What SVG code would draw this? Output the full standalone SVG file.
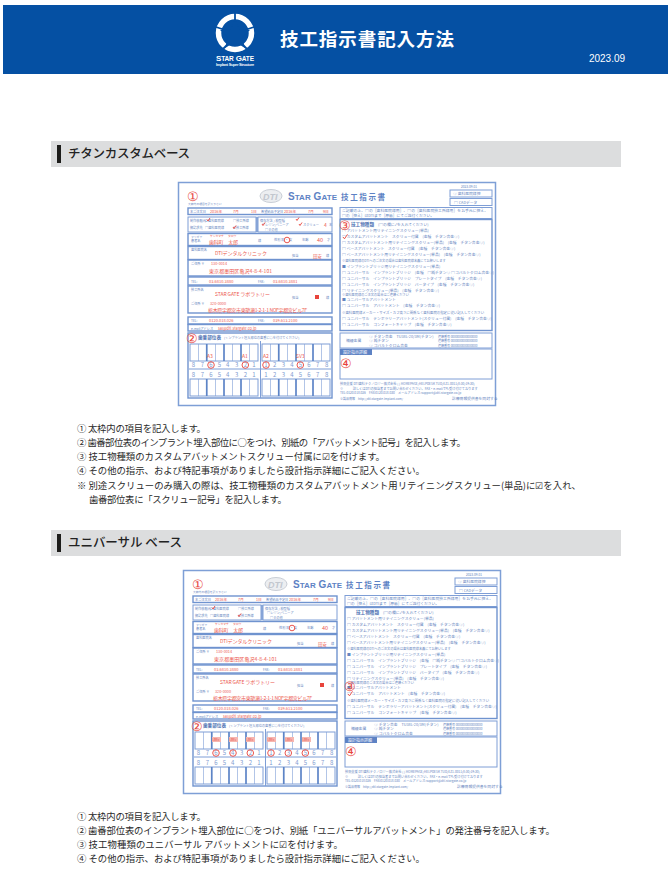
<svg xmlns="http://www.w3.org/2000/svg" xmlns:xlink="http://www.w3.org/1999/xlink" width="672" height="889" viewBox="0 0 672 889">
<style>
text{font-family:"Noto Sans CJK JP","Noto Sans",sans-serif}
.body{font-size:9.4px;fill:#2a2a2a}
.head{font-size:12.5px;fill:#222;font-weight:500}
.t{font-size:3.8px;fill:#6685c0}
.l{font-size:3.2px;fill:#6685c0}
.tb{font-size:4.6px;fill:#4f73b4;font-weight:700}
.n{font-size:6px;fill:#7f9bd0;text-anchor:middle;font-family:"Liberation Sans",sans-serif}
.r{font-size:5px;fill:#ec5a50}
.rs{font-size:3.8px;fill:#ec5a50}
.num{font-size:13px;fill:#e8443c;text-anchor:middle;font-family:"Liberation Sans",sans-serif}
.p{fill:none;stroke:#7e9ed6;stroke-width:1}
.pt{fill:none;stroke:#6f93cf;stroke-width:1.4}
.red{fill:none;stroke:#e8443c;stroke-width:.9}
.cell{stroke:#7e9ed6;stroke-width:.6}
.thick{stroke:#5d84c6;stroke-width:1.6}
</style>
<defs>
<g id="grid">
<rect class="p" x="190" y="344" width="68" height="17"/>
<path class="cell" d="M198.500 344V361M207 344V361M215.500 344V361M224 344V361M232.500 344V361M241 344V361M249.500 344V361"/>
<path class="thick" d="M206.700 344V361M224 344V361M241 344V361"/>
</g>
<g id="formBase">
<rect x="178.500" y="182.500" width="317" height="223" fill="#fff" stroke="#7e9fd6" stroke-width="1.500"/>
<text x="188" y="205" class="l" style="font-size:2.800px">太枠内の項目を記入下さい</text>
<ellipse cx="271" cy="196" rx="11" ry="6.500" fill="#eceef1" stroke="#c9ced6" stroke-width="1"/>
<text x="263" y="199.500" font-size="9" fill="#c2c7cf" font-weight="700" font-style="italic" style="font-family:'Liberation Sans',sans-serif">DTI</text>
<text x="288" y="199.500" font-size="10" fill="#5d82c4" font-weight="700" textLength="49" style="font-family:'Liberation Sans',sans-serif">S<tspan font-size="8">TAR</tspan> G<tspan font-size="8">ATE</tspan></text>
<text x="341" y="199.500" font-size="7.500" fill="#5d82c4" font-weight="700" textLength="44">技工指示書</text>
<!-- left panels -->
<rect class="pt" x="188" y="208" width="144" height="6.500"/>
<text x="190" y="212.800" class="l">本ご注文日</text><text x="261" y="212.800" class="l">希望納品予定日</text>
<rect class="p" x="188" y="217" width="68" height="15"/><rect class="p" x="258" y="217" width="74" height="15"/>
<path class="pt" d="M257 217V232"/>
<text x="190" y="221.500" class="l">制作依頼元</text><text x="233" y="221.500" class="l">□技工所様</text>
<text x="190" y="229" class="l">御請求先</text><text x="205" y="229" class="l">□歯科医院様</text><text x="233" y="229" class="l">☑技工所様</text>
<text x="260" y="221.500" class="l">保存方法 / 模型種</text><text x="262" y="226" class="l">□レジン/ベニーア</text><text x="265" y="230.500" class="l">□その他</text>
<rect class="pt" x="188" y="233.500" width="144" height="12"/>
<text x="191" y="238" class="l" style="font-size:2.800px">フリガナ</text><text x="191" y="242" class="l">患者名</text><text x="258" y="242" class="l">様</text><text x="274" y="241" class="l">性別 男 ・ 女</text><text x="302" y="241" class="l">年齢</text><text x="327" y="241" class="l">才</text>
<rect class="pt" x="188" y="246.500" width="144" height="13"/>
<text x="191" y="250.500" class="l">歯科医院名</text><text x="292" y="257" class="l">担当</text><text x="326" y="257" class="l">様</text>
<rect class="pt" x="188" y="260" width="144" height="16"/>
<text x="191" y="264.500" class="l">ご住所 〒</text>
<rect class="pt" x="188" y="277" width="144" height="8"/>
<text x="191" y="282.500" class="l">TEL:</text><text x="258" y="282.500" class="l">FAX:</text>
<rect class="pt" x="188" y="286" width="144" height="27"/>
<text x="191" y="290.500" class="l">技工所名</text><text x="292" y="299" class="l">担当</text><text x="326" y="299" class="l">様</text>
<text x="191" y="304.500" class="l">ご住所 〒</text>
<rect class="pt" x="188" y="317" width="144" height="7"/>
<text x="191" y="322" class="l">TEL:</text><text x="258" y="322" class="l">FAX:</text>
<rect class="pt" x="188" y="324.500" width="144" height="6.500"/>
<text x="191" y="329.500" class="l">e-mailアドレス</text>
<rect class="pt" x="188" y="333" width="144" height="65"/>
<text x="198" y="339" class="tb">歯番部位表</text><text x="224" y="339" class="l">(インプラント埋入部位の歯番に○を付けてください)</text>
<path class="p" d="M260.500 341V398"/>
<use xlink:href="#grid"/><use xlink:href="#grid" x="72"/>
<use xlink:href="#grid" y="35"/><use xlink:href="#grid" x="72" y="35"/>
<path class="p" d="M189 369H331"/>
<g class="n"><text x="193.300" y="367">8</text><text x="202.300" y="367">7</text><text x="211" y="367">6</text><text x="219.300" y="367">5</text><text x="227.700" y="367">4</text><text x="236.700" y="367">3</text><text x="245.300" y="367">2</text><text x="254" y="367">1</text><text x="266" y="367">1</text><text x="274.700" y="367">2</text><text x="283.300" y="367">3</text><text x="292" y="367">4</text><text x="300.300" y="367">5</text><text x="309" y="367">6</text><text x="317.700" y="367">7</text><text x="326.700" y="367">8</text>
<text x="193.300" y="377">8</text><text x="202.300" y="377">7</text><text x="211" y="377">6</text><text x="219.300" y="377">5</text><text x="227.700" y="377">4</text><text x="236.700" y="377">3</text><text x="245.300" y="377">2</text><text x="254" y="377">1</text><text x="266" y="377">1</text><text x="274.700" y="377">2</text><text x="283.300" y="377">3</text><text x="292" y="377">4</text><text x="300.300" y="377">5</text><text x="309" y="377">6</text><text x="317.700" y="377">7</text><text x="326.700" y="377">8</text></g>
<!-- right panels -->
<text x="461" y="187.500" class="l">2023.09.01</text>
<rect class="p" x="450" y="190" width="42" height="7"/><text x="453" y="195" class="t">◎ 歯科医院様控</text>
<rect class="p" x="450" y="198.500" width="42" height="7"/><text x="454" y="203.500" class="t">□ CADデータ</text>
<rect class="p" x="340" y="207.500" width="152" height="11"/>
<text x="342" y="212" class="t" textLength="146">ご記載の上、□の［歯科医院様用］、□の［歯科医院技工所様用］をお手元に控え、</text>
<text x="342" y="216.500" class="t" textLength="92">□の［控え］はDTIまで［原紙］にてご送付ください。</text>
<rect class="pt" x="340" y="219.500" width="152" height="111"/>
<text x="351" y="225.500" class="tb">技工物種類</text><text x="378" y="225.500" class="t">(□の欄に✓を入れてください)</text>
<g class="t">
<text x="342" y="231.500">□ アバットメント用リテイニングスクリュー(単品)</text>
<text x="342" y="238">□ カスタムアバットメント　スクリュー付属　(金種　チタン合金◎)</text>
<text x="342" y="244">□ カスタムアバットメント用リテイニングスクリュー(単品)　(金種　チタン合金◎)</text>
<text x="342" y="250">□ ベースアバットメント　スクリュー付属　(金種　チタン合金◎)</text>
<text x="342" y="256">□ ベースアバットメント用リテイニングスクリュー(単品)　(金種　チタン合金◎)</text>
<text x="342" y="261.500" style="font-size:3.200px">※歯科医院様のDTIへのご注文の場合は歯科医院様名義にてお願いします</text>
<text x="342" y="267.500">■ インプラントブリッジ用リテイニングスクリュー(単品)</text>
<text x="342" y="273.500">□ ユニバーサル　インプラントブリッジ　(金種　□純チタン◎ □コバルトクロム合金◎)</text>
<text x="342" y="279.500">□ ユニバーサル　インプラントブリッジ　プレートタイプ　(金種　チタン合金◎)</text>
<text x="342" y="285.500">□ ユニバーサル　インプラントブリッジ　バータイプ　(金種　チタン合金◎)</text>
<text x="342" y="291.500">□ リテイニングスクリュー(単品)　(金種　チタン合金◎)</text>
<text x="342" y="296" style="font-size:3.200px">※歯科医院様のご注文の場合はご連絡ください</text>
<text x="342" y="301">■ ユニバーサルアバットメント</text>
<text x="342" y="307">□ ユニバーサル　アバットメント　(金種　チタン合金◎)</text>
<text x="342" y="314" style="font-size:3.400px">※歯科医院様メーカー・サイズ・カフ高さに関係なく歯科医院の指定に従い記入してください</text>
<text x="342" y="320">□ ユニバーサル　テンポラリーアバットメント(スクリュー付属)　(金種　チタン合金◎)</text>
<text x="342" y="326">□ ユニバーサル　コンフォートキャップ　(金種　チタン合金◎)</text>
</g>
<rect class="p" x="340" y="333" width="152" height="15"/>
<text x="346" y="342" class="t">補綴金属</text>
<text x="369" y="337.500" class="t">◎ チタン合金　TU38L-20/3M(チタン)</text><text x="369" y="342" class="t">◎ 純チタン</text><text x="369" y="346.500" class="t">◎ コバルトクロム合金</text>
<text x="438" y="337.500" class="l" style="font-size:3px">連絡番号 0000000000000000</text><text x="438" y="342" class="l" style="font-size:3px">連絡番号 0000000000000000</text><text x="438" y="346.500" class="l" style="font-size:3px">連絡番号 0000000000000000</text>
<rect class="p" x="340" y="349" width="152" height="30"/>
<rect x="340" y="349" width="32" height="6" fill="#5d82c4"/><text x="343" y="353.800" style="font-size:4px" fill="#fff">設計指示詳細</text>
<text x="340" y="385" class="l">技術支援 DTI歯科テクノロジー株式会社 ( ) HOMEPAGE/HELPDESK TUD/EZ1-0011(8:30/19:30)</text>
<text x="340" y="389.500" class="l">※　　　詳しくはDTIの担当者までお問い合わせください。FAX・e-mailでも受け付けております</text>
<text x="340" y="394" class="l">TEL:0120.018.026　FAX:0120.018.030　メールアドレス:support@dti-stargate.co.jp</text>
<text x="340" y="400" class="l" style="font-size:3px">※製品情報　http://dti.stargate-implant.com/</text>
<text x="452" y="400" class="t">診療情報提供書を同封する</text>
</g>
</defs>

<g id="banner">
<rect x="3" y="5" width="665" height="69" fill="#0550a3"/>
<g id="logo">
<circle cx="235" cy="33" r="16.500" fill="none" stroke="#fff" stroke-width="5.500"/>
<path d="M235 19L239 29L250 30L242 37L245 48L235 42L225 48L228 37L220 30L231 29Z" fill="#0550a3"/>
<path d="M235 13V20M216 27L222 29M254 27L248 29M223 49L227 45M247 49L243 45" stroke="#0550a3" stroke-width="1.800"/>
<text x="216" y="61" font-size="8" font-weight="700" fill="#fff" textLength="38" style="font-family:'Liberation Sans',sans-serif">S<tspan font-size="6.500">TAR</tspan> G<tspan font-size="6.500">ATE</tspan></text>
<text x="216" y="65.500" font-size="3.800" font-weight="700" fill="#fff" textLength="38" style="font-family:'Liberation Sans',sans-serif">Implant Super Structure</text>
</g>
<text x="280" y="46" font-size="18.500" font-weight="700" fill="#fff" textLength="174">技工指示書記入方法</text>
<text x="589" y="62" font-size="10" fill="#fff" textLength="36" style="font-family:'Liberation Sans',sans-serif">2023.09</text>
</g>

<g id="section-titan">
<rect x="51" y="141" width="570" height="26" fill="#dcddde"/>
<rect x="57" y="145" width="4" height="18" fill="#1d1d1b"/>
<text x="68" y="158" class="head" textLength="122">チタンカスタムベース</text>
</g>

<g id="form-titan">
<use xlink:href="#formBase"/>
<text x="193" y="201" class="num">①</text>
<g class="rs"><text x="210" y="212.800">2016年</text><text x="233" y="212.800">7月</text><text x="251" y="212.800">1日</text><text x="284" y="212.800">2016年</text><text x="308" y="212.800">7月</text><text x="323" y="212.800">9日</text></g>
<text x="205" y="221.500" class="l">☑歯科医院様</text>
<path class="red" d="M207 219.500l1 1.500 2-3M233 227l1 1.500 2-3M262 224l1 1.500 2-3M299 224l1 1.500 2-3M296 219l1 1.500 2-3"/>
<text x="303" y="226" class="l">スクリュー</text><text x="324" y="226.500" class="r">4</text><text x="329" y="226" class="l">本</text>
<g class="rs" style="font-size:2.800px"><text x="210" y="237">ケンカマチ</text><text x="228" y="237">タロウ</text></g>
<text x="209" y="243.500" class="r" textLength="29">歯科町　太郎</text>
<circle class="red" cx="287" cy="240" r="2.800"/>
<text x="317" y="242" class="r" style="font-size:5.500px">40</text>
<text x="215" y="254.500" class="r" textLength="52">DTIデンタルクリニック</text>
<text x="313" y="257.500" class="r" style="font-size:4.500px">田安</text>
<text x="211" y="264.500" class="rs">130-0014</text>
<text x="209" y="273" class="r" textLength="63">東京都墨田区亀沢4-8-4-101</text>
<text x="209" y="282.500" class="rs" style="font-size:4px">03.6810.3880</text><text x="273" y="282.500" class="rs" style="font-size:4px">03.6810.3881</text>
<text x="215" y="296" class="r" textLength="55">STAR GATE ラボラトリー</text>
<rect x="315" y="295" width="4" height="4" fill="#e8443c"/>
<text x="210" y="304.500" class="rs">320-0000</text>
<text x="208" y="312" class="r" textLength="99">栃木県宇都宮市東簗瀬1-2-1-1 NOF宇都宮ビル7F</text>
<text x="209" y="322" class="rs" style="font-size:4px">0120.018.026</text><text x="273" y="322" class="rs" style="font-size:4px">039.613.2100</text>
<text x="218" y="329.500" class="rs">sal@dti.stargate.co.jp</text>
<text x="192" y="343" class="num">②</text>
<g class="rs" style="font-size:5px"><text x="207" y="358">A3</text><text x="242" y="358">A1</text><text x="263" y="358">A2</text><text x="296" y="358">SV3</text></g>
<circle class="red" cx="211" cy="365" r="3.300"/><circle class="red" cx="245.300" cy="365" r="3.300"/><circle class="red" cx="266" cy="365" r="3.300"/><circle class="red" cx="300.300" cy="365" r="3.300"/>
<text x="345" y="230" class="num">③</text>
<path class="red" d="M343 237l1.500 1.800 3-4.500"/>
<text x="346" y="368" class="num">④</text>
</g>

<g id="notes-titan" class="body">
<text x="77" y="431.500" textLength="129">① 太枠内の項目を記入します。</text>
<text x="77" y="445.500" textLength="389">② 歯番部位表のインプラント埋入部位に○をつけ、別紙の「アバットメント記号」を記入します。</text>
<text x="77" y="459.500" textLength="308">③ 技工物種類のカスタムアバットメントスクリュー付属に☑を付けます。</text>
<text x="77" y="474" textLength="348">④ その他の指示、および特記事項がありましたら設計指示詳細にご記入ください。</text>
<text x="77" y="488.500" textLength="504">※ 別途スクリューのみ購入の際は、技工物種類のカスタムアバットメント用リテイニングスクリュー(単品)に☑を入れ、</text>
<text x="89" y="503" textLength="198">歯番部位表に「スクリュー記号」を記入します。</text>
</g>

<g id="section-universal">
<rect x="51" y="530" width="570" height="26" fill="#dcddde"/>
<rect x="57" y="534" width="4" height="18" fill="#1d1d1b"/>
<text x="68" y="547" class="head" textLength="114">ユニバーサル ベース</text>
</g>

<g id="form-universal">
<use xlink:href="#formBase" x="5" y="388"/>
<text x="198" y="589" class="num">①</text>
<g class="rs"><text x="215" y="600.800">2016年</text><text x="238" y="600.800">7月</text><text x="256" y="600.800">1日</text><text x="289" y="600.800">2016年</text><text x="313" y="600.800">7月</text><text x="328" y="600.800">9日</text></g>
<text x="210" y="609.500" class="l">☑歯科医院様</text>
<path class="red" d="M212 607.500l1 1.500 2-3M238 615l1 1.500 2-3"/>
<g class="rs" style="font-size:2.800px"><text x="215" y="625">ケンカマチ</text><text x="233" y="625">タロウ</text></g>
<text x="214" y="631.500" class="r" textLength="29">歯科町　太郎</text>
<circle class="red" cx="292" cy="628" r="2.800"/>
<text x="322" y="630" class="r" style="font-size:5.500px">40</text>
<text x="220" y="642.500" class="r" textLength="52">DTIデンタルクリニック</text>
<text x="318" y="645.500" class="r" style="font-size:4.500px">田安</text>
<text x="216" y="652.500" class="rs">130-0014</text>
<text x="214" y="661" class="r" textLength="63">東京都墨田区亀沢4-8-4-101</text>
<text x="214" y="670.500" class="rs" style="font-size:4px">03.6810.3880</text><text x="278" y="670.500" class="rs" style="font-size:4px">03.6810.3881</text>
<text x="220" y="684" class="r" textLength="55">STAR GATE ラボラトリー</text>
<rect x="320" y="683" width="4" height="4" fill="#e8443c"/>
<text x="215" y="692.500" class="rs">320-0000</text>
<text x="213" y="700" class="r" textLength="99">栃木県宇都宮市東簗瀬1-2-1-1 NOF宇都宮ビル7F</text>
<text x="214" y="710" class="rs" style="font-size:4px">0120.018.026</text><text x="278" y="710" class="rs" style="font-size:4px">039.613.2100</text>
<text x="223" y="717.500" class="rs">sal@dti.stargate.co.jp</text>
<text x="197" y="731" class="num">②</text>
<g fill="#f6b7b0"><rect x="212" y="737" width="9" height="5"/><rect x="229" y="737" width="9" height="5"/><rect x="246" y="737" width="9" height="5"/><rect x="267" y="737" width="9" height="5"/><rect x="285" y="737" width="9" height="5"/><rect x="302" y="737" width="9" height="5"/></g>
<g class="rs" style="font-size:2.800px"><text x="212.500" y="741">LBR3</text><text x="229.500" y="741">LBR1</text><text x="246.500" y="741">LBR3</text><text x="267.500" y="741">LBR3</text><text x="285.500" y="741">LBR1</text><text x="302.500" y="741">LBR3</text></g>
<circle class="red" cx="216" cy="753" r="3.300"/><circle class="red" cx="233" cy="753" r="3.300"/><circle class="red" cx="250.300" cy="753" r="3.300"/><circle class="red" cx="271" cy="753" r="3.300"/><circle class="red" cx="288.300" cy="753" r="3.300"/><circle class="red" cx="305.300" cy="753" r="3.300"/>
<text x="350" y="691" class="num">③</text>
<path class="red" d="M348 694l1.500 1.800 3-4.500"/>
<text x="351" y="756" class="num">④</text>
</g>

<g id="notes-universal" class="body">
<text x="77" y="819.500" textLength="129">① 太枠内の項目を記入します。</text>
<text x="77" y="833.500" textLength="478">② 歯番部位表のインプラント埋入部位に○をつけ、別紙「ユニバーサルアバットメント」の発注番号を記入します。</text>
<text x="77" y="847.500" textLength="266">③ 技工物種類のユニバーサル アバットメントに☑を付けます。</text>
<text x="77" y="862" textLength="348">④ その他の指示、および特記事項がありましたら設計指示詳細にご記入ください。</text>
</g>
</svg>
